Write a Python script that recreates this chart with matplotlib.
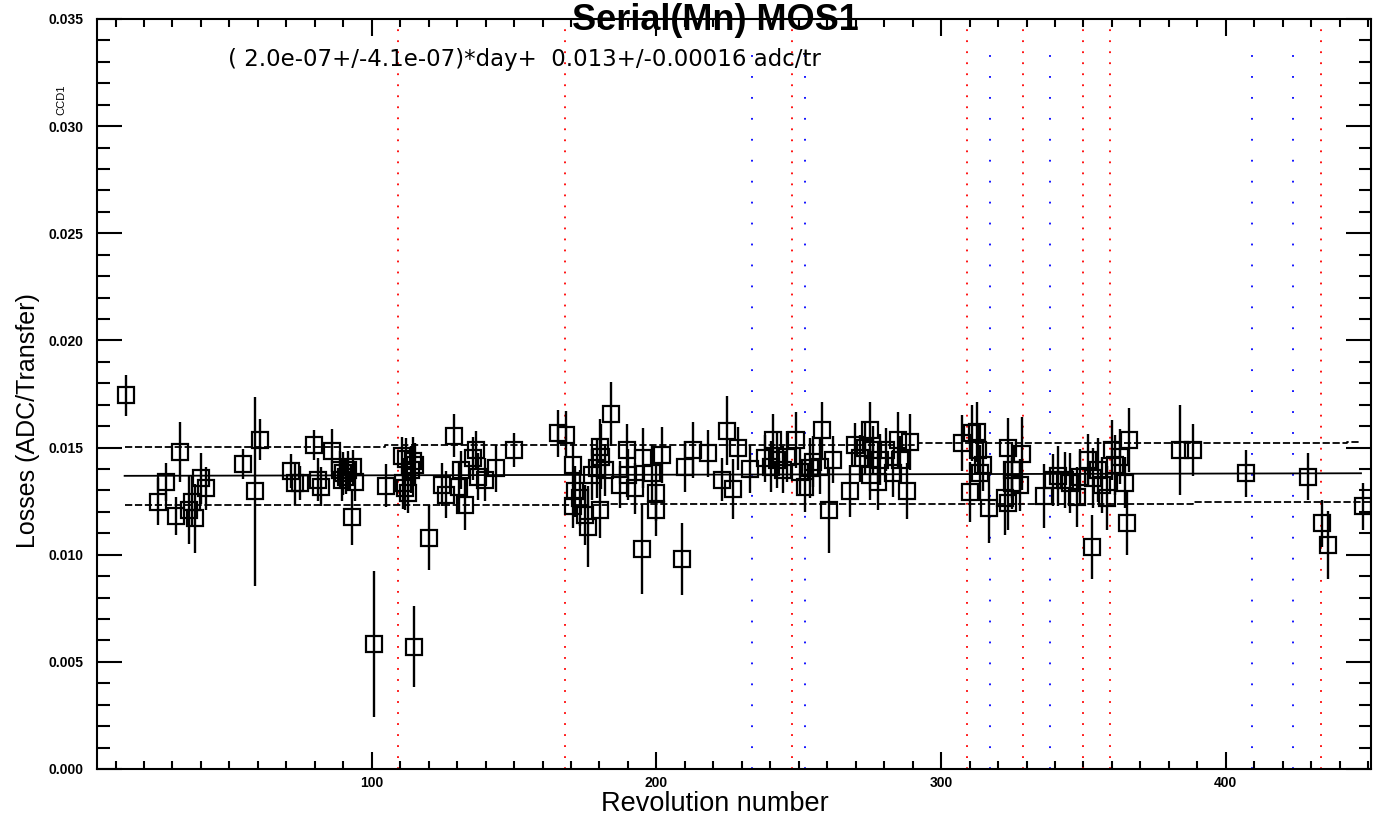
import numpy as np
import matplotlib
matplotlib.use("Agg")
import matplotlib.pyplot as plt
from matplotlib.ticker import MultipleLocator, FormatStrFormatter

plt.rcParams['font.family'] = ['Liberation Sans', 'DejaVu Sans']

# ---------------------------------------------------------------
# Data
# ---------------------------------------------------------------
rev = [13.8, 24.9, 27.9, 31.1, 32.8, 35.8, 36.9, 37.8, 40.2, 41.9,
       54.8, 58.9, 60.6, 71.8, 72.9, 74.7, 79.6, 81.1, 82.3, 86.1,
       88.8, 89.9, 91.1, 89.4, 91.7, 93.4, 94.0, 92.9, 100.7, 104.9,
       110.8, 111.9, 114.5, 111.0, 112.8, 111.6, 113.9, 115.1, 115.0, 120.2,
       124.8, 126.2, 128.9, 130.7, 131.2, 132.7, 135.6, 136.8, 137.3, 139.7,
       143.8, 149.9,
       165.5, 168.4, 170.8, 171.3, 170.8, 173.1, 174.8, 176.0, 177.2, 179.0,
       180.1, 180.7, 180.1, 181.9, 183.9, 187.1, 189.5, 190.1, 192.4, 194.8,
       195.3, 198.3, 200.0, 200.0, 202.1, 209.0, 210.2, 212.9, 218.2, 222.9,
       224.8, 227.0, 228.7, 232.8, 238.1, 241.0, 242.2, 240.4, 244.5, 245.7,
       249.2, 250.4, 252.1, 253.9, 255.1, 257.4, 258.0, 262.1, 260.7, 268.0,
       269.7, 271.5, 275.0, 273.2, 276.1, 277.9, 275.0, 278.5, 280.8, 283.1,
       284.9, 285.5, 287.9, 289.0,
       307.2, 310.1, 310.7, 312.5, 313.0, 314.8, 313.6, 316.9, 323.6, 324.8,
       324.8, 322.4, 323.6, 328.3, 327.7, 336.1, 339.4, 341.1, 343.5, 345.3,
       347.6, 348.8, 351.7, 352.9, 353.5, 355.2, 356.4, 358.2, 359.9, 361.1,
       362.8, 364.6, 365.2, 366.0, 383.9, 388.4, 407.1, 429.0, 433.9, 436.0,
       448.1]

loss = [0.01743, 0.01248, 0.01340, 0.01181, 0.01481, 0.01209, 0.01248, 0.01170, 0.01356, 0.01310,
        0.01424, 0.01295, 0.01536, 0.01392, 0.01333, 0.01333, 0.01513, 0.01349, 0.01318, 0.01485,
        0.01396, 0.01380, 0.01364, 0.01349, 0.01396, 0.01410, 0.01340, 0.01174, 0.00584, 0.01321,
        0.01461, 0.01446, 0.01438, 0.01333, 0.01286, 0.01310, 0.01396, 0.01419, 0.00571, 0.01080,
        0.01326, 0.01279, 0.01555, 0.01318, 0.01396, 0.01233, 0.01450, 0.01489, 0.01364, 0.01349,
        0.01403, 0.01489,
        0.01567, 0.01559, 0.01419, 0.01295, 0.01225, 0.01264, 0.01186, 0.01131, 0.01373, 0.01403,
        0.01504, 0.01458, 0.01209, 0.01396, 0.01656, 0.01326, 0.01489, 0.01373, 0.01310, 0.01027,
        0.01450, 0.01380, 0.01286, 0.01209, 0.01466, 0.00980, 0.01411, 0.01489, 0.01473, 0.01349,
        0.01579, 0.01307, 0.01496, 0.01400, 0.01450, 0.01536, 0.01443, 0.01411, 0.01396, 0.01458,
        0.01536, 0.01387, 0.01318, 0.01403, 0.01434, 0.01411, 0.01583, 0.01443, 0.01209, 0.01298,
        0.01513, 0.01450, 0.01583, 0.01496, 0.01489, 0.01340, 0.01373, 0.01443, 0.01489, 0.01380,
        0.01536, 0.01443, 0.01298, 0.01527,
        0.01520, 0.01291, 0.01567, 0.01574, 0.01489, 0.01419, 0.01380, 0.01216, 0.01499, 0.01396,
        0.01333, 0.01264, 0.01243, 0.01471, 0.01326, 0.01275, 0.01349, 0.01368, 0.01349, 0.01333,
        0.01270, 0.01364, 0.01443, 0.01035, 0.01356, 0.01396, 0.01326, 0.01264, 0.01489, 0.01419,
        0.01458, 0.01336, 0.01150, 0.01536, 0.01489, 0.01489, 0.01380, 0.01364, 0.01146, 0.01046,
        0.01225]

loss_err = [0.00097, 0.0011, 0.0009, 0.0009, 0.0014, 0.0016, 0.0012, 0.0016, 0.0012, 0.0010,
            0.0007, 0.0044, 0.00095, 0.0008, 0.0010, 0.0008, 0.0007, 0.0010, 0.0009, 0.0010,
            0.0009, 0.0010, 0.0008, 0.0010, 0.0009, 0.0008, 0.0009, 0.0013, 0.0034, 0.0010,
            0.0009, 0.0010, 0.0011, 0.0012, 0.0009, 0.0010, 0.0011, 0.0010, 0.0019, 0.0015,
            0.0010, 0.0011, 0.0010, 0.0012, 0.0009, 0.0012, 0.0010, 0.0009, 0.0011, 0.0010,
            0.0011, 0.0008,
            0.0011, 0.0011, 0.0010, 0.0012, 0.0010, 0.0013, 0.0014, 0.0019, 0.0012, 0.0014,
            0.0013, 0.0015, 0.0013, 0.0012, 0.0015, 0.0011, 0.0012, 0.0012, 0.0012, 0.0021,
            0.0014, 0.0013, 0.0013, 0.0012, 0.0013, 0.0017, 0.0012, 0.0013, 0.0011, 0.0010,
            0.0016, 0.0014, 0.0010, 0.0011, 0.0011, 0.0012, 0.0013, 0.0012, 0.0011, 0.0012,
            0.0013, 0.0011, 0.0012, 0.0014, 0.0012, 0.0013, 0.0013, 0.0011, 0.0020, 0.0012,
            0.0010, 0.0011, 0.0013, 0.0012, 0.0011, 0.0013, 0.0012, 0.0012, 0.0010, 0.0011,
            0.0013, 0.0011, 0.0013, 0.0013,
            0.0013, 0.0014, 0.0013, 0.0014, 0.0011, 0.0012, 0.0013, 0.0016, 0.0014, 0.0013,
            0.0012, 0.0017, 0.0013, 0.0017, 0.0012, 0.0015, 0.0012, 0.0014, 0.0013, 0.0014,
            0.0014, 0.0013, 0.0012, 0.0015, 0.0014, 0.0015, 0.0013, 0.0015, 0.0014, 0.0014,
            0.0013, 0.0012, 0.0015, 0.0015, 0.0021, 0.0012, 0.0011, 0.0011, 0.0011, 0.0016,
            0.0011]

# linear fit and +/- band
fit_x = [13.2, 447.5]
fit_y = [0.01368, 0.01380]
band_hi_x = [13.2, 104.6, 291.8, 442.6, 447.5]
band_hi_y = [0.01503, 0.01511, 0.01520, 0.01528, 0.01528]
band_lo_x = [13.2, 183.0, 388.5, 450.5]
band_lo_y = [0.01231, 0.01237, 0.01246, 0.01246]

# vertical markers (revolutions)
red_revs = [109.1, 167.8, 247.6, 309.1, 328.7, 349.8, 359.3, 433.4]
blue_revs = [233.5, 252.1, 317.1, 338.2, 409.2, 423.6]

fit_label = "( 2.0e-07+/-4.1e-07)*day+  0.013+/-0.00016 adc/tr"

# ---------------------------------------------------------------
fig = plt.figure(figsize=(13.74, 8.14), dpi=100)
ax = fig.add_axes([0.0706, 0.0553, 0.9272, 0.9214])

for r in red_revs:
    ax.axvline(r, color="red", lw=1.3, ls=(0, (1, 5.1)), ymax=0.988)
for b in blue_revs:
    ax.axvline(b, color="blue", lw=1.3, ls=(0, (1, 10.6)), ymax=0.97)

ax.plot(fit_x, fit_y, color="black", lw=1.3)
ax.plot(band_hi_x, band_hi_y, color="black", lw=1.3, ls=(0, (4, 1.5)), drawstyle="steps-post")
ax.plot(band_lo_x, band_lo_y, color="black", lw=1.3, ls=(0, (4, 1.5)), drawstyle="steps-post")

ax.errorbar(rev, loss, yerr=loss_err, fmt="s", ms=11, mfc="none", mec="black",
            mew=1.6, ecolor="black", elinewidth=1.7, capsize=0)

ax.set_xlim(3.5, 451)
ax.set_ylim(0, 0.035)

ax.xaxis.set_major_locator(MultipleLocator(100))
ax.xaxis.set_minor_locator(MultipleLocator(10))
ax.yaxis.set_major_locator(MultipleLocator(0.005))
ax.yaxis.set_minor_locator(MultipleLocator(0.001))
ax.yaxis.set_major_formatter(FormatStrFormatter("%.3f"))

ax.tick_params(which="both", direction="in", top=True, right=True, width=1.5, labelsize=10)
ax.tick_params(axis="x", which="major", length=12, pad=5)
ax.tick_params(axis="x", which="minor", length=6)
ax.tick_params(axis="y", which="major", length=18, pad=10)
ax.tick_params(axis="y", which="minor", length=9)
for lab in ax.get_xticklabels() + ax.get_yticklabels():
    lab.set_fontweight("bold")
for s in ax.spines.values():
    s.set_linewidth(1.5)

ax.text(49.4, 0.0331, fit_label, fontsize=16.5, ha="left", va="center",
        family=["DejaVu Sans"])

fig.text(0.521, 0.975, "Serial(Mn) MOS1", fontsize=26, fontweight="bold",
         ha="center", va="center")
fig.text(0.045, 0.877, "CCD1", fontsize=8, rotation=90, ha="center", va="center")
ax.set_ylabel("Losses (ADC/Transfer)", fontsize=18)
ax.yaxis.set_label_coords(-0.045, 0.465)
ax.set_xlabel("Revolution number", fontsize=19.5, labelpad=0)
ax.xaxis.set_label_coords(0.485, -0.029)

fig.savefig("out.png", dpi=100)
